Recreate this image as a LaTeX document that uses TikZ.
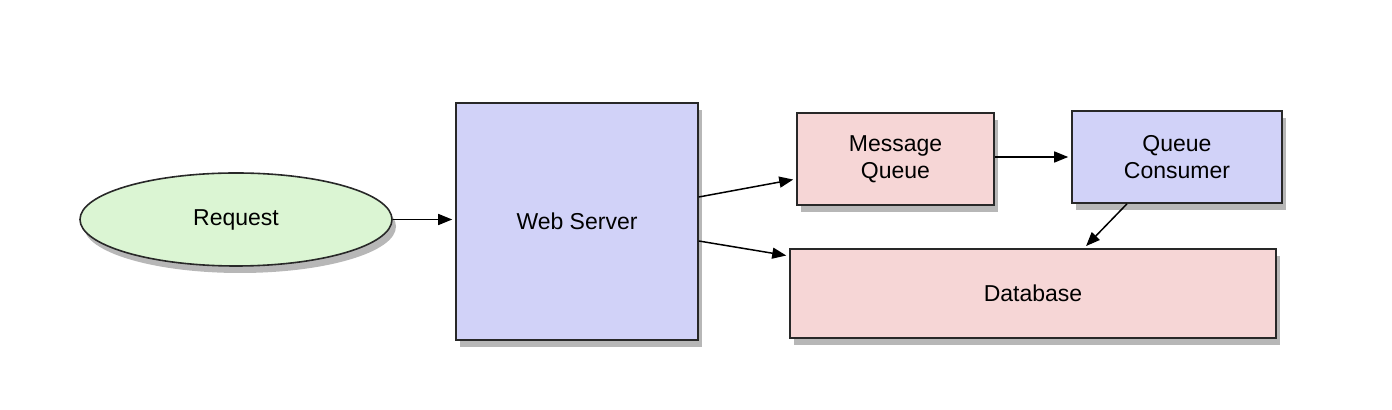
\documentclass[tikz,border=0pt]{standalone}
\usepackage{fontspec}
\setmainfont{Liberation Sans}
\usetikzlibrary{shapes.geometric,shadows,arrows.meta}
\definecolor{greenfill}{RGB}{219,245,211}
\definecolor{bluefill}{RGB}{209,210,248}
\definecolor{pinkfill}{RGB}{246,214,214}
\definecolor{edge}{RGB}{40,40,40}
\tikzset{
  shad/.style={drop shadow={shadow xshift=2pt,shadow yshift=-3.5pt,opacity=0.4,fill=black!70}},
  boxnode/.style={draw=edge,line width=0.8pt,rectangle,shad,font=\fontsize{11.5pt}{13.5pt}\selectfont,align=center,inner sep=0pt},
  ellnode/.style={draw=edge,line width=0.8pt,ellipse,shad,fill=greenfill,font=\fontsize{11.5pt}{13.5pt}\selectfont,inner sep=0pt},
  conn/.style={draw=black,line width=0.75pt,-{Triangle[length=7pt,width=5.5pt]},shorten >=1.5pt}
}
\begin{document}
\begin{tikzpicture}[x=0.5pt,y=-0.5pt]
\useasboundingbox (0,0) rectangle (1392,410);
\node[ellnode,minimum width=156pt,minimum height=46.5pt] (req) at (236,219.5) {Request};
\node[boxnode,fill=bluefill,minimum width=121pt,minimum height=118.5pt] (ws) at (577,221.5) {Web Server};
\node[boxnode,fill=pinkfill,minimum width=98.5pt,minimum height=46pt] (mq) at (895.5,159) {Message\\Queue};
\node[boxnode,fill=bluefill,minimum width=105pt,minimum height=46pt] (qc) at (1177,157) {Queue\\Consumer};
\node[boxnode,fill=pinkfill,minimum width=243pt,minimum height=44.5pt] (db) at (1033,293.5) {Database};
\draw[conn] (req.east) -- (ws.west |- req.east);
\draw[conn] ([yshift=12.25pt]ws.east) -- ([yshift=-10pt]mq.west);
\draw[conn] ([yshift=-9.75pt]ws.east) -- ([yshift=18.75pt]db.west);
\draw[conn] ([yshift=1pt]mq.east) -- ([yshift=0pt]qc.west);
\draw[conn] ([xshift=-25pt]qc.south) -- ([xshift=25.5pt]db.north);
\end{tikzpicture}
\end{document}
